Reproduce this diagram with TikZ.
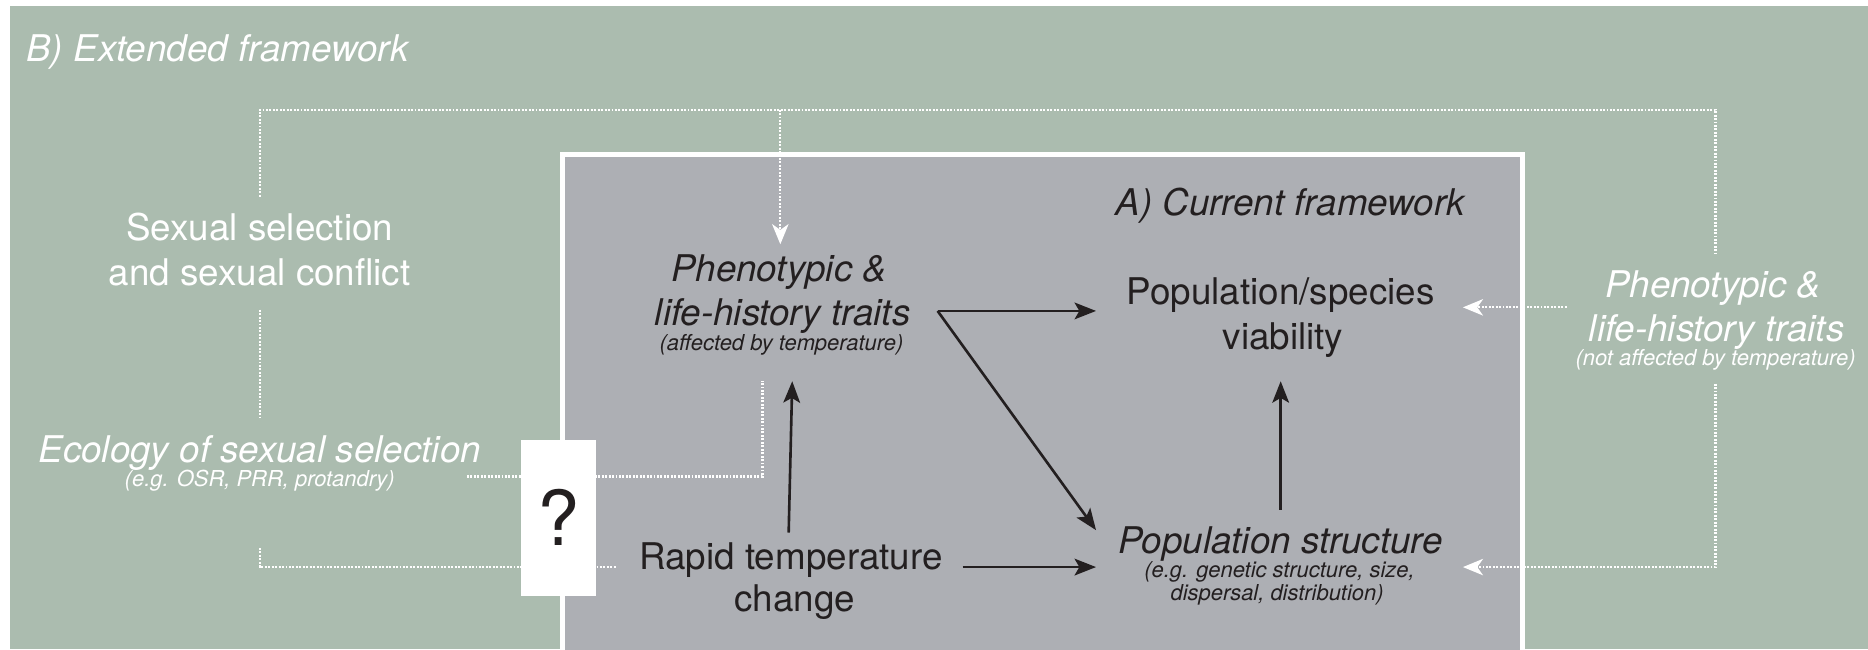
\documentclass[tikz,border=0pt]{standalone}
\usepackage{fontspec}
\setmainfont{TeX Gyre Heros}
\usetikzlibrary{arrows.meta}
\definecolor{bggreen}{RGB}{171,188,175}
\definecolor{boxgray}{RGB}{173,175,180}
\definecolor{ink}{RGB}{35,31,32}
\begin{document}
\begin{tikzpicture}[x=1bp,y=-1bp,
  bigtxt/.style={font=\fontsize{31}{37}\selectfont, inner sep=0pt, anchor=base},
  bigit/.style={font=\fontsize{31}{37}\selectfont\itshape, inner sep=0pt, anchor=base},
  smallit/.style={font=\fontsize{18.5}{21}\selectfont\itshape, inner sep=0pt, anchor=base},
  wtxt/.style={text=white},
  dtxt/.style={text=ink},
  wdot/.style={draw=white, line width=1.8bp, dash pattern=on 1.6bp off 1.3bp},
  warrow/.style={wdot, -{Stealth[length=17bp,width=14bp,inset=5bp,fill=white,line width=0pt]}},
  barrow/.style={draw=ink, line width=2.2bp, -{Stealth[length=18bp,width=14bp,inset=4bp]}}
]
\useasboundingbox (0,0) rectangle (1568,545);
\fill[white] (0,0) rectangle (1568,545);
\fill[bggreen] (8,5) rectangle (1568,545);
% inner box
\fill[boxgray] (472,130) rectangle (1278,546);
\draw[white, line width=4bp] (472,547) -- (472,130) -- (1278,130) -- (1278,547);

% coordinates for connectors
\coordinate (topL) at (218,92);
\coordinate (topR) at (1440,92);
\coordinate (topM) at (655,92);
\coordinate (phIn) at (655,205);
\coordinate (sxTop) at (218,165);
\coordinate (sxBot) at (218,260);
\coordinate (ecoTop) at (218,350);
\coordinate (ecoBot) at (218,460);
\coordinate (ecoCorner) at (218,476);
\coordinate (rtLeft) at (518,476);
\coordinate (ecoRight) at (392,400);
\coordinate (ecoTurn) at (640,400);
\coordinate (phBelow) at (640,320);
\coordinate (rpTop) at (1440,213);
\coordinate (rpBot) at (1440,322);
\coordinate (rpCorner) at (1440,476);
\coordinate (rpLeft) at (1315,258);
\coordinate (pvIn) at (1228,258);
\coordinate (psIn) at (1228,476);
\coordinate (phOut) at (787,261);
\coordinate (pvLeft) at (920,261);
\coordinate (psUL) at (920,445);
\coordinate (rtUp) at (662,447);
\coordinate (phDown) at (665,320);
\coordinate (rtRight) at (808,476);
\coordinate (psLeft) at (920,476);
\coordinate (psUp) at (1075,428);
\coordinate (pvDown) at (1075,320);

% titles
\node[bigit, wtxt, anchor=base west] (titleB) at (22,52) {B) Extended framework};
\node[bigit, dtxt] (titleA) at (1083,181) {A) Current framework};

% left column (white)
\node[bigtxt, wtxt] (sx1) at (218,202) {Sexual selection};
\node[bigtxt, wtxt] (sx2) at (218,240) {and sexual conflict};
\node[bigit, wtxt] (eco1) at (218,388) {Ecology of sexual selection};
\node[smallit, wtxt] (eco2) at (218,408) {(e.g. OSR, PRR, protandry)};

% right column (white)
\node[bigit, wtxt] (rp1) at (1438,250) {Phenotypic \&};
\node[bigit, wtxt] (rp2) at (1441,287) {life-history traits};
\node[smallit, wtxt] (rp3) at (1440,307) {(not affected by temperature)};

% inner nodes (dark)
\node[bigit, dtxt] (ph1) at (654,236) {Phenotypic \&};
\node[bigit, dtxt] (ph2) at (657,273) {life-history traits};
\node[smallit, dtxt] (ph3) at (656,294) {(affected by temperature)};

\node[bigtxt, dtxt] (pv1) at (1075,256) {Population/species};
\node[bigtxt, dtxt] (pv2) at (1077,293) {viability};

\node[bigtxt, dtxt] (rt1) at (664,478) {Rapid temperature};
\node[bigtxt, dtxt] (rt2) at (667,513) {change};

\node[bigit, dtxt] (ps1) at (1075,465) {Population structure};
\node[smallit, dtxt] (ps2) at (1074,485) {(e.g. genetic structure, size,};
\node[smallit, dtxt] (ps3) at (1072,504) {dispersal, distribution)};

% dotted white connectors
\draw[wdot] (sxTop) -- (topL) -- (topR) -- (rpTop);
\draw[warrow] (topM) -- (phIn);
\draw[wdot] (sxBot) -- (ecoTop);
\draw[wdot] (ecoBot) -- (ecoCorner) -- (rtLeft);
\draw[wdot] (ecoRight) -- (ecoTurn) -- (phBelow);
\draw[warrow] (rpLeft) -- (pvIn);
\draw[warrow] (rpBot) -- (rpCorner) -- (psIn);

% question box
\node[fill=white, minimum width=63bp, minimum height=131bp, inner sep=0pt,
      text=ink, font=\fontsize{64}{70}\selectfont] (qbox) at (468.5,434.5) {?};

% black arrows
\draw[barrow] (phOut) -- (pvLeft);
\draw[barrow] (phOut) -- (psUL);
\draw[barrow] (rtUp) -- (phDown);
\draw[barrow] (rtRight) -- (psLeft);
\draw[barrow] (psUp) -- (pvDown);
\end{tikzpicture}
\end{document}
